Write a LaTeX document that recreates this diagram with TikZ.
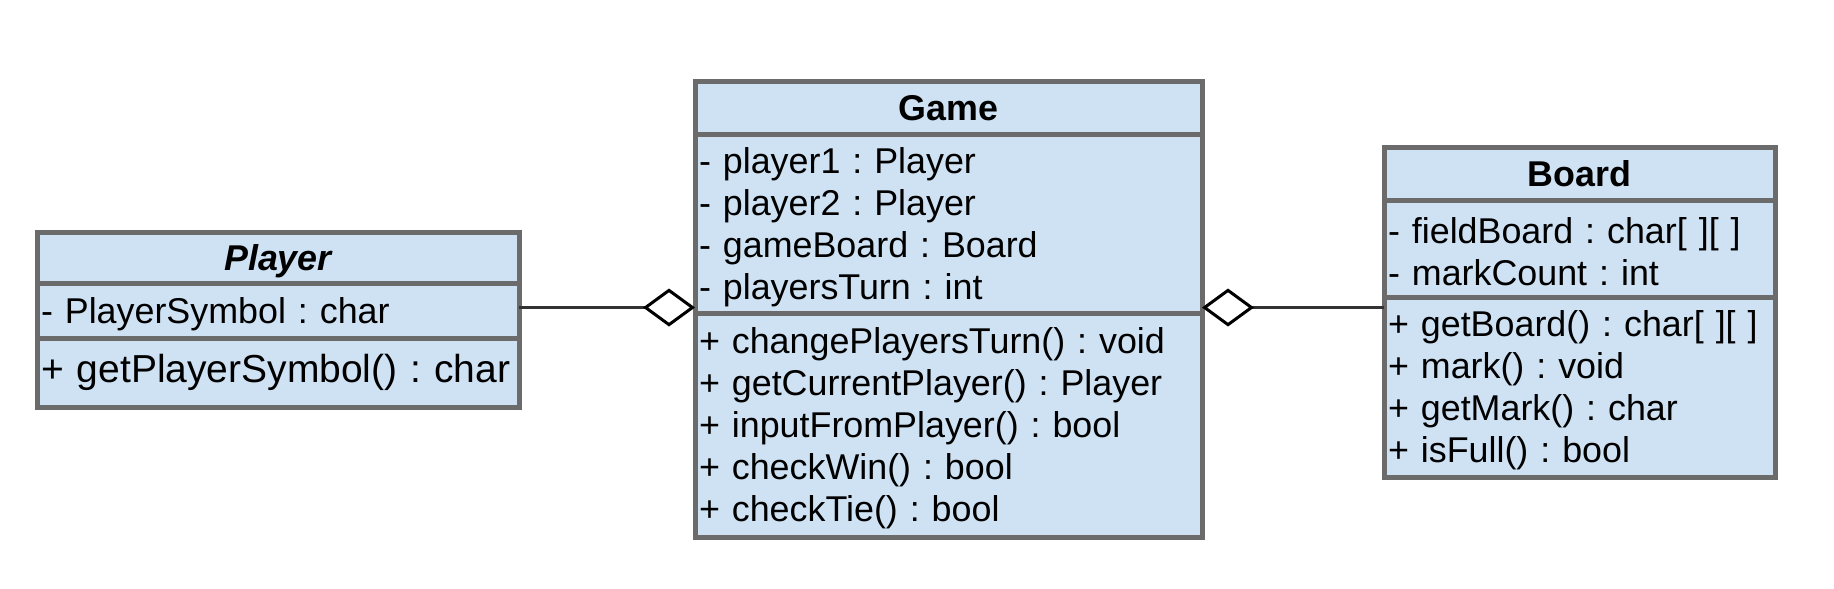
\documentclass[tikz,border=0pt]{standalone}
\usepackage{fontspec}
\setmainfont{Liberation Sans}
\frenchspacing
\usetikzlibrary{arrows.meta,positioning}
\definecolor{umlfill}{HTML}{CFE2F3}
\definecolor{umlframe}{HTML}{6B6B6B}
\definecolor{umlline}{HTML}{333333}

\begin{document}
\begin{tikzpicture}[
    node distance=0pt,
    every node/.style={font=\fontsize{10.2}{11.95}\selectfont},
    head/.style={rectangle, draw=umlframe, fill=umlfill, line width=0.05cm, outer sep=0pt, inner sep=0pt, align=center, text depth=0pt, font=\fontsize{10.2}{11.95}\selectfont\bfseries},
    members/.style={rectangle, draw=umlframe, fill=umlfill, line width=0.05cm, outer sep=0pt, inner xsep=0.04cm, inner ysep=0pt, text height=9.4pt, align=left},
    agg/.style={draw=umlline, line width=0.03cm, -{Diamond[length=0.52cm, width=0.38cm, fill=white, color=black]}}
]
\useasboundingbox (0,0) rectangle (18.34,-5.88);

\node[head, minimum width=4.82cm, minimum height=0.51cm, anchor=north west] (player) at (0.37,-2.32) {\itshape Player};
\node[members, text width=4.74cm, minimum height=0.55cm, below=of player] (player-attr) {- PlayerSymbol : char};
\node[members, text width=4.74cm, minimum height=0.69cm, below=of player-attr, text height=8.1pt, font=\fontsize{11.1}{13}\selectfont] (player-ops) {+ getPlayerSymbol() : char};

\node[head, minimum width=5.07cm, minimum height=0.53cm, anchor=north west] (game) at (6.95,-0.81) {Game};
\node[members, text width=4.99cm, minimum height=1.79cm, below=of game] (game-attr) {- player1 : Player\\- player2 : Player\\- gameBoard : Board\\- playersTurn : int};
\node[members, text width=4.99cm, minimum height=2.24cm, below=of game-attr] (game-ops) {+ changePlayersTurn() : void\\+ getCurrentPlayer() : Player\\+ inputFromPlayer() : bool\\+ checkWin() : bool\\+ checkTie() : bool};

\node[head, minimum width=3.91cm, minimum height=0.53cm, anchor=north west] (board) at (13.84,-1.47) {Board};
\node[members, text width=3.83cm, minimum height=0.97cm, below=of board] (board-attr) {- fieldBoard : char[ ][ ]\\- markCount : int};
\node[members, text width=3.83cm, minimum height=1.80cm, below=of board-attr] (board-ops) {+ getBoard() : char[ ][ ]\\+ mark() : void\\+ getMark() : char\\+ isFull() : bool};

\coordinate (link) at ([yshift=0.03cm]player-attr.east);
\draw[agg] (link) -- (link -| game-attr.west);
\draw[agg] (link -| board-ops.west) -- (link -| game-attr.east);
\end{tikzpicture}
\end{document}
